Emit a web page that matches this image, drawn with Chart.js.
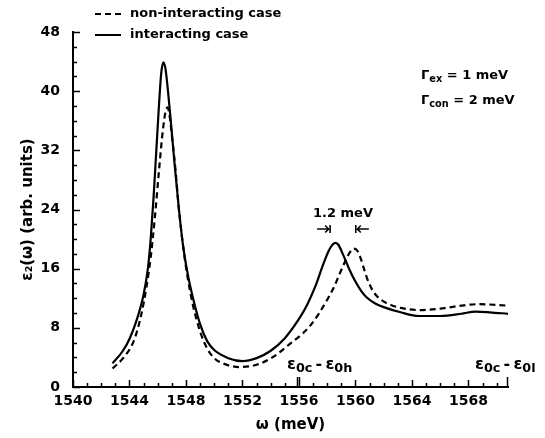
<!DOCTYPE html>
<html lang="en">
<head>
<meta charset="UTF-8">
<title>ε2(ω) – interacting vs non-interacting</title>
<script src="https://cdn.jsdelivr.net/npm/chart.js"></script>
<style>
  body { margin: 0; background: #fff; color: #000; font-family: 'DejaVu Sans', sans-serif; font-weight: bold; }
  .wrap { position: relative; width: 545px; height: 438px; }
  canvas { position: absolute; left: 0; top: 0; }
  .txt { position: absolute; white-space: nowrap; line-height: 1; }
  .legend { font-size: 13px; }
  .legend .ln { display: inline-block; width: 26px; vertical-align: middle; margin-right: 9px; }
  .dash { border-top: 2px dashed #000; }
  .solid { border-top: 2px solid #000; }
  .note { font-size: 13px; }
  .arrow { font-size: 19px; font-weight: normal; }
  .eps { font-size: 16px; }
  sub { font-size: 75%; vertical-align: -3px; line-height: 0; }
  .eps sub { font-size: 80%; }
</style>
</head>
<body>
<div class="wrap">
  <canvas id="eps" width="545" height="438"></canvas>

  <div class="txt legend" style="left:95px; top:6px;"><span class="ln dash"></span>non-interacting case</div>
  <div class="txt legend" style="left:95px; top:27px;"><span class="ln solid"></span>interacting case</div>

  <div class="txt note" style="left:421px; top:68px;">Γ<sub>ex</sub> = 1 meV</div>
  <div class="txt note" style="left:421px; top:93px;">Γ<sub>con</sub> = 2 meV</div>

  <div class="txt note" style="left:313px; top:206px;">1.2 meV</div>
  <div class="txt arrow" style="left:316px; top:219px;">⇥</div>
  <div class="txt arrow" style="left:354px; top:219px;">⇤</div>

  <div class="txt eps" style="left:287px; top:356px;">ε<sub>0c</sub>&#8201;-&#8201;ε<sub>0h</sub></div>
  <div class="txt eps" style="left:475px; top:356px;">ε<sub>0c</sub>&#8201;-&#8201;ε<sub>0l</sub></div>
</div>

<script>
// photon energy (meV) and eps2 for the interacting case (solid)
const omegaInt = [1542.8, 1543.5, 1544.0, 1544.5, 1545.0, 1545.3, 1545.5, 1545.7, 1545.9, 1546.1,
                  1546.25, 1546.4, 1546.55, 1546.7, 1546.9, 1547.2, 1547.5, 1547.8, 1548.1, 1548.5,
                  1549.0, 1549.5, 1550.0, 1551.0, 1552.0, 1553.0, 1554.0, 1555.0, 1556.0, 1556.6,
                  1557.2, 1557.7, 1558.1, 1558.4, 1558.6, 1558.8, 1559.1, 1559.5, 1559.9, 1560.4,
                  1560.8, 1561.4, 1562.0, 1563.2, 1564.5, 1566.0, 1567.5, 1568.5, 1569.5, 1570.8];
const epsInt   = [3.2, 4.8, 6.5, 9.0, 12.5, 16.0, 20.0, 25.5, 32.0, 38.5,
                  42.5, 43.9, 43.0, 40.5, 36.5, 30.0, 24.0, 19.0, 15.5, 12.0,
                  8.5, 6.2, 5.0, 3.9, 3.5, 3.9, 4.9, 6.6, 9.2, 11.2,
                  13.8, 16.5, 18.4, 19.3, 19.5, 19.2, 18.0, 16.2, 14.6, 13.0,
                  12.1, 11.3, 10.8, 10.1, 9.6, 9.6, 9.9, 10.2, 10.1, 9.9];

// non-interacting case (dashed)
const omegaNon = [1542.8, 1543.5, 1544.3, 1544.8, 1545.2, 1545.5, 1545.8, 1546.1, 1546.35, 1546.55,
                  1546.7, 1546.85, 1547.0, 1547.25, 1547.5, 1547.8, 1548.1, 1548.5, 1549.0, 1549.5,
                  1550.0, 1550.6, 1551.8, 1553.0, 1554.2, 1555.4, 1556.3, 1556.8, 1557.4, 1558.0,
                  1558.5, 1558.9, 1559.3, 1559.6, 1559.85, 1560.1, 1560.35, 1560.6, 1560.9, 1561.3,
                  1561.8, 1562.5, 1563.2, 1564.5, 1566.0, 1567.5, 1568.7, 1570.8];
const epsNon   = [2.5, 3.8, 6.2, 9.5, 13.5, 17.5, 23.0, 29.5, 34.5, 37.2,
                  37.8, 36.5, 34.0, 29.5, 24.0, 19.0, 15.0, 11.0, 7.5, 5.2,
                  3.9, 3.2, 2.7, 3.0, 4.1, 5.9, 7.3, 8.3, 9.9, 11.8,
                  13.6, 15.4, 17.1, 18.2, 18.7, 18.5, 17.5, 16.0, 14.3, 12.8,
                  11.8, 11.1, 10.7, 10.4, 10.6, 11.0, 11.2, 11.0];

// axes
const xRange = [1540, 1570.8];
const xTickLabels = [1540, 1544, 1548, 1552, 1556, 1560, 1564, 1568];
const xMinorStep = 1;
const yRange = [0, 48];
const yTickLabels = [0, 8, 16, 24, 32, 40, 48];
const yMinorStep = 2;
// transition energies marked on the axis (eps0c-eps0h, eps0c-eps0l)
const markers = [1555.9, 1570.8];

const toXY = (xs, ys) => xs.map((x, i) => ({ x: x, y: ys[i] }));

// tick marks pointing into the plot, as in the original figure
const innerTicks = {
  id: 'innerTicks',
  afterDraw(chart) {
    const { ctx, chartArea: a } = chart;
    const x = chart.scales.x, y = chart.scales.y;
    ctx.save();
    ctx.strokeStyle = '#000';
    ctx.lineWidth = 1.5;
    ctx.beginPath();
    for (let v = xRange[0]; v <= xRange[1]; v += xMinorStep) {
      const px = Math.round(x.getPixelForValue(v)) + 0.5;
      const len = xTickLabels.includes(v) ? 7 : 4;
      ctx.moveTo(px, a.bottom);
      ctx.lineTo(px, a.bottom - len);
    }
    for (let v = yRange[0]; v <= yRange[1]; v += yMinorStep) {
      const py = Math.round(y.getPixelForValue(v)) + 0.5;
      const len = yTickLabels.includes(v) ? 7 : 4;
      ctx.moveTo(a.left, py);
      ctx.lineTo(a.left + len, py);
    }
    markers.forEach((m, i) => {
      const px = Math.round(x.getPixelForValue(m)) - 0.5;
      ctx.moveTo(px, a.bottom);
      ctx.lineTo(px, a.bottom - 10);
      if (i === 0) {
        ctx.moveTo(px + 2, a.bottom);
        ctx.lineTo(px + 2, a.bottom - 10);
      }
    });
    ctx.stroke();
    ctx.restore();
  }
};

const tickFont = { family: "'DejaVu Sans', sans-serif", size: 14, weight: 'bold' };

new Chart(document.getElementById('eps'), {
  type: 'line',
  data: {
    datasets: [
      {
        label: 'non-interacting case',
        data: toXY(omegaNon, epsNon),
        borderColor: '#000',
        borderWidth: 2.2,
        borderDash: [6, 4],
        pointRadius: 0,
        cubicInterpolationMode: 'monotone'
      },
      {
        label: 'interacting case',
        data: toXY(omegaInt, epsInt),
        borderColor: '#000',
        borderWidth: 2.2,
        pointRadius: 0,
        cubicInterpolationMode: 'monotone'
      }
    ]
  },
  options: {
    responsive: false,
    animation: false,
    layout: { padding: { top: 32, right: 37, left: 0, bottom: 0 } },
    plugins: { legend: { display: false }, tooltip: { enabled: false } },
    scales: {
      x: {
        type: 'linear',
        min: xRange[0],
        max: xRange[1],
        afterBuildTicks: s => { s.ticks = xTickLabels.map(v => ({ value: v })); },
        afterFit: s => { s.height = 51; },
        grid: { display: false, drawTicks: false },
        border: { display: true, color: '#000', width: 2 },
        ticks: { color: '#000', font: tickFont, padding: 6, maxRotation: 0, autoSkip: false, callback: v => String(v) },
        title: { display: true, text: 'ω (meV)', color: '#000', font: { ...tickFont, size: 15 }, padding: { top: 0, bottom: 4 } }
      },
      y: {
        min: yRange[0],
        max: yRange[1],
        afterBuildTicks: s => { s.ticks = yTickLabels.map(v => ({ value: v })); },
        afterFit: s => { s.width = 73; },
        grid: { display: false, drawTicks: false },
        border: { display: true, color: '#000', width: 2 },
        ticks: { color: '#000', font: tickFont, padding: 13, callback: v => String(v) },
        title: { display: true, text: 'ε₂(ω) (arb. units)', color: '#000', font: { ...tickFont, size: 15 }, padding: { top: 19, bottom: 0 } }
      }
    }
  },
  plugins: [innerTicks]
});
</script>
</body>
</html>
